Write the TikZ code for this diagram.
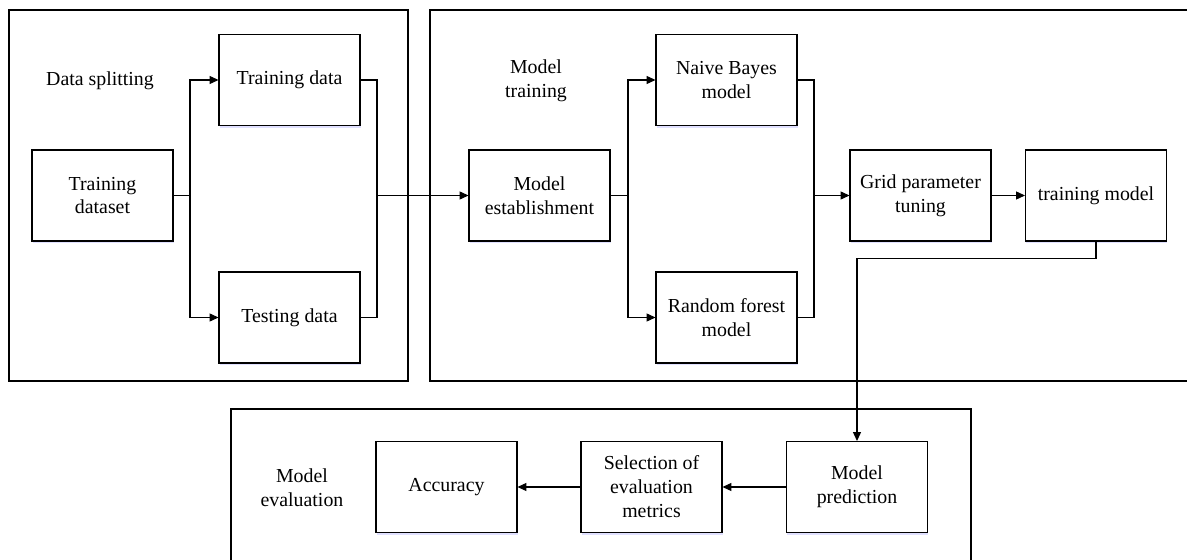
\documentclass[tikz,border=0pt]{standalone}
\usepackage{fontspec}
\setmainfont{Liberation Serif}
\usetikzlibrary{arrows.meta,shadows}

\begin{document}
\begin{tikzpicture}[x=0.02cm, y=-0.02cm,
every node/.style={font=\fontsize{11.3}{13.6}\selectfont, align=center, inner sep=1pt},
blk/.style={draw, line width=0.6pt, fill=white, minimum width=2.82cm, minimum height=1.82cm,
    drop shadow={shadow xshift=0.5pt, shadow yshift=-1.2pt, fill=blue!30, opacity=0.4}},
frame/.style={line width=0.7pt},
arr/.style={-{Triangle[length=5pt,width=4.5pt]}},
line width=0.6pt
]
\useasboundingbox (0,0) rectangle (1187,560);
\clip (0,0) rectangle (1187,560);

% panels
\draw[frame] (9,10) rectangle (408,381);
\draw[frame] (430,10) rectangle (1200,381);
\draw[frame] (231,409) rectangle (971,580);

\node (split) at (100,81) {Data splitting};
\node (train) at (536,81) {Model\\training};
\node (evalu) at (302,488) {Model\\evaluation};

\node[blk] (dataset)   at (102.5,195.5) {Training\\dataset};
\node[blk] (traindata) at (289.5,80)    {Training data};
\node[blk] (testdata)  at (289.5,317.5) {Testing data};
\node[blk] (establish) at (539.5,195.5) {Model\\establishment};
\node[blk] (bayes)     at (726.5,80)    {Naive Bayes\\model};
\node[blk] (forest)    at (726.5,317.5) {Random forest\\model};
\node[blk] (grid)      at (920.5,195.5) {Grid parameter\\tuning};
\node[blk] (trained)   at (1096,195.5)  {training model};
\node[blk] (predict)   at (857,487)     {Model\\prediction};
\node[blk] (metrics)   at (651.5,487)   {Selection of\\evaluation\\metrics};
\node[blk] (accuracy)  at (446.5,487)   {Accuracy};

\coordinate (s1) at (190,195.5);
\coordinate (m1) at (377,195.5);
\coordinate (s2) at (628,195.5);
\coordinate (m2) at (814,195.5);

\draw (dataset.east) -- (s1);
\draw (establish.east) -- (s2);
\foreach \s/\a/\b in {s1/traindata/testdata, s2/bayes/forest}{
    \draw[arr] (\s) |- (\a.west);
    \draw[arr] (\s) |- (\b.west);
}
\foreach \a/\b/\m in {traindata/testdata/m1, bayes/forest/m2}
    \draw (\a.east) -| (\m) |- (\b.east);
\draw[arr] (m1) -- (establish.west);
\draw[arr] (m2) -- (grid.west);
\draw[arr] (grid) -- (trained);

\draw[arr] (trained.south) -- ++(0,17) -| (predict.north);
\foreach \i/\j in {predict/metrics, metrics/accuracy}
    \draw[arr] (\i) -- (\j);

\end{tikzpicture}
\end{document}
